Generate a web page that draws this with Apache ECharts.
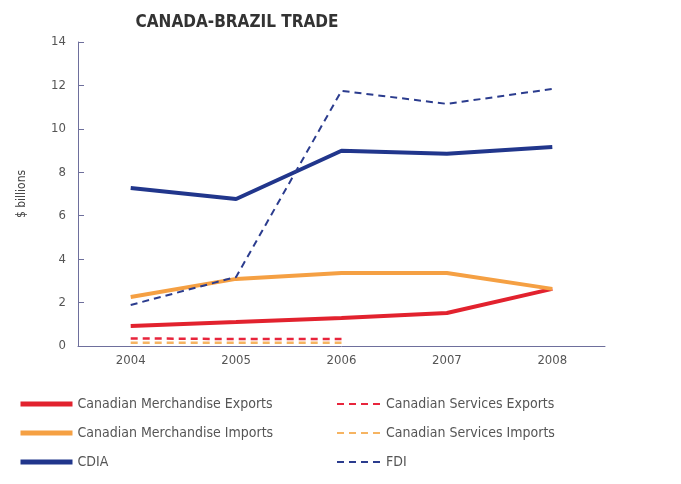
<!DOCTYPE html>
<html><head><meta charset="utf-8">
<script src="https://cdn.jsdelivr.net/npm/echarts@6/dist/echarts.min.js"></script>
<style>html,body{margin:0;padding:0;background:#fff}#c{width:681px;height:484px}</style>
</head><body><div id="c"></div>
<script>
var years = ['2004','2005','2006','2007','2008'];
var merchExports = [0.92, 1.1, 1.29, 1.52, 2.63];
var merchImports = [2.26, 3.09, 3.36, 3.36, 2.63];
var cdia = [7.28, 6.77, 8.99, 8.85, 9.17];
var servExports = [0.35, 0.32, 0.32, null, null];
var servImports = [0.15, 0.15, 0.15, null, null];
var fdi = [1.89, 3.18, 11.75, 11.15, 11.84];
var yTicks = [0, 2, 4, 6, 8, 10, 12, 14];

var font = '"DejaVu Sans Condensed","Liberation Sans Narrow","Liberation Sans",sans-serif';
var axisColor = '#6e6f9c';
function line(name, data, color, width, dashed) {
  return {
    name: name, type: 'line', data: data, symbol: 'none', smooth: false,
    lineStyle: {color: color, width: width, type: dashed ? [7, 5] : 'solid'},
    itemStyle: {color: color}, z: dashed ? 3 : 2
  };
}
var legendCommon = {orient: 'vertical', top: 392, itemHeight: 10, itemGap: 15,
  itemStyle: {opacity: 0},
  textStyle: {color: '#555', fontFamily: font, fontSize: 14}};
var chart = echarts.init(document.getElementById('c'), null, {renderer: 'canvas'});
chart.setOption({
  backgroundColor: '#fff',
  animation: false,
  title: {text: 'CANADA-BRAZIL TRADE', left: 232, top: 9, textAlign: 'center',
    textStyle: {fontFamily: font, fontWeight: 'bold', fontSize: 17, color: '#333'}},
  grid: {left: 78, right: 76, top: 42, bottom: 138},
  xAxis: {type: 'category', data: years, boundaryGap: true,
    axisLine: {lineStyle: {color: axisColor, width: 1}},
    axisTick: {inside: true, alignWithLabel: true, length: 5, lineStyle: {color: axisColor}},
    axisLabel: {color: '#555', fontFamily: font, fontSize: 13, margin: 8}},
  yAxis: {type: 'value', min: yTicks[0], max: yTicks[yTicks.length - 1], interval: 2,
    name: '$ billions', nameLocation: 'middle', nameGap: 50, nameRotate: 90,
    nameTextStyle: {color: '#444', fontFamily: font, fontSize: 12},
    axisLine: {show: true, lineStyle: {color: axisColor}},
    axisTick: {show: true, inside: true, length: 6, lineStyle: {color: axisColor}},
    splitLine: {show: false},
    axisLabel: {color: '#555', fontFamily: font, fontSize: 13, margin: 12}},
  legend: [
    Object.assign({}, legendCommon, {left: 13, itemWidth: 52,
     data: [
       {name: 'Canadian Merchandise Exports', lineStyle: {width: 5}},
       {name: 'Canadian Merchandise Imports', lineStyle: {width: 5}},
       {name: 'CDIA', lineStyle: {width: 5}}]}),
    Object.assign({}, legendCommon, {left: 331, itemWidth: 44,
     data: ['Canadian Services Exports', 'Canadian Services Imports', 'FDI']})
  ],
  series: [
    line('Canadian Merchandise Exports', merchExports, '#e2222e', 4, false),
    line('Canadian Merchandise Imports', merchImports, '#f5a043', 4, false),
    line('CDIA', cdia, '#21368c', 4, false),
    line('Canadian Services Exports', servExports, '#e8253c', 2.5, true),
    line('Canadian Services Imports', servImports, '#f6b462', 2.5, true),
    line('FDI', fdi, '#2b3c8e', 2, true)
  ]
});
</script></body></html>
